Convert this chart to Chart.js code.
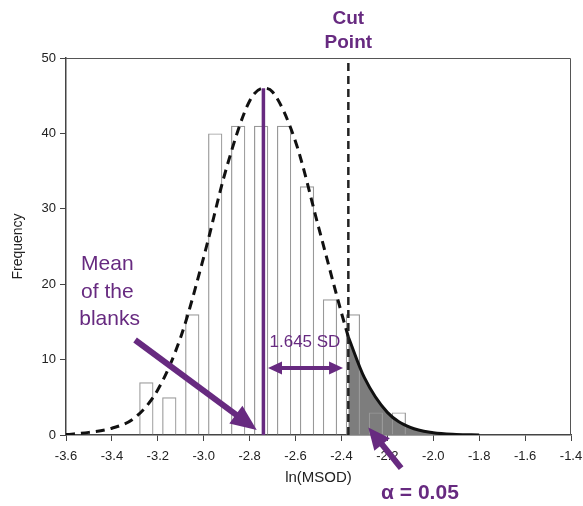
<!DOCTYPE html>
<html>
<head>
<meta charset="utf-8">
<script src="https://cdn.jsdelivr.net/npm/chart.js@4.4.1/dist/chart.umd.min.js"></script>
<style>
  html, body { margin: 0; padding: 0; background: #fff; }
  #wrap { width: 583px; height: 506px; }
</style>
</head>
<body>
<div id="wrap"><canvas id="c" width="583" height="506"></canvas></div>
<script>
// ---- data ----
const binCenters  = [-3.25, -3.15, -3.05, -2.95, -2.85, -2.75, -2.65, -2.55, -2.45, -2.35, -2.25, -2.15];
const frequencies = [7, 5, 16, 40, 41, 41, 41, 33, 18, 16, 3, 3];

const curveX = [-3.6, -3.5, -3.4, -3.3, -3.2, -3.1, -3.0, -2.9, -2.8, -2.74, -2.7, -2.6, -2.5, -2.4, -2.37];
const curveY = [0.05, 0.35, 0.9, 2.3, 6.0, 13.0, 23.6, 35.5, 44.3, 46.0, 45.5, 38.9, 27.6, 16.2, 13.0];

const tailX = [-2.37, -2.3, -2.2, -2.1, -2.0, -1.9, -1.8];
const tailY = [13.0, 7.6, 3.0, 1.0, 0.3, 0.07, 0.0];

const meanX = -2.74, meanTop = 46;
const cutX = -2.37, cutTop = 50;

const xTickMin = -3.6, xTickMax = -1.4, xTickStep = 0.2;
const yTickMin = 0, yTickMax = 50, yTickStep = 10;

const xTitle = 'ln(MSOD)';
const yTitle = 'Frequency';

// ---- styling ----
const PURPLE = '#672a80';
const FONT = "'Liberation Sans', Arial, sans-serif";

function pts(xs, ys) { return xs.map((v, i) => ({ x: v, y: ys[i] })); }

function drawArrow(ctx, x1, y1, x2, y2, w, headLen, headW, both) {
  const ang = Math.atan2(y2 - y1, x2 - x1);
  const cos = Math.cos(ang), sin = Math.sin(ang);
  ctx.lineWidth = w;
  ctx.lineCap = 'butt';
  const sx = both ? x1 + cos * headLen * 0.8 : x1;
  const sy = both ? y1 + sin * headLen * 0.8 : y1;
  const ex = x2 - cos * headLen * 0.8, ey = y2 - sin * headLen * 0.8;
  ctx.beginPath(); ctx.moveTo(sx, sy); ctx.lineTo(ex, ey); ctx.stroke();
  const head = (tx, ty, c, s) => {
    const bx = tx - c * headLen, by = ty - s * headLen;
    ctx.beginPath();
    ctx.moveTo(tx, ty);
    ctx.lineTo(bx - s * headW / 2, by + c * headW / 2);
    ctx.lineTo(bx + s * headW / 2, by - c * headW / 2);
    ctx.closePath(); ctx.fill();
  };
  head(x2, y2, cos, sin);
  if (both) head(x1, y1, -cos, -sin);
}

const annot = {
  id: 'annot',
  afterDatasetsDraw(chart) {
    const { ctx, chartArea: a, scales: { x, y } } = chart;
    ctx.save();
    // top/right frame
    ctx.strokeStyle = '#555'; ctx.lineWidth = 1;
    ctx.beginPath();
    ctx.moveTo(a.left, a.top + 0.5);
    ctx.lineTo(a.right - 0.5, a.top + 0.5);
    ctx.lineTo(a.right - 0.5, a.bottom);
    ctx.stroke();

    ctx.fillStyle = PURPLE; ctx.strokeStyle = PURPLE;
    ctx.textAlign = 'center'; ctx.textBaseline = 'middle';

    // Cut Point
    ctx.font = 'bold 19px ' + FONT;
    ctx.fillText('Cut', x.getPixelForValue(cutX), a.top - 39);
    ctx.fillText('Point', x.getPixelForValue(cutX), a.top - 15);

    // Mean of the blanks
    ctx.font = '21px ' + FONT;
    ctx.fillText('Mean', x.getPixelForValue(-3.42), y.getPixelForValue(22.7));
    ctx.fillText('of the', x.getPixelForValue(-3.42), y.getPixelForValue(19.0));
    ctx.fillText('blanks', x.getPixelForValue(-3.41), y.getPixelForValue(15.3));

    // arrow to mean
    drawArrow(ctx, x.getPixelForValue(-3.299), y.getPixelForValue(12.6),
                   x.getPixelForValue(-2.769), y.getPixelForValue(0.66), 6, 26, 22, false);

    // 1.645 SD
    ctx.font = '17px ' + FONT;
    ctx.fillText('1.645 SD', x.getPixelForValue(-2.559), y.getPixelForValue(12.3));
    drawArrow(ctx, x.getPixelForValue(-2.72), y.getPixelForValue(8.9),
                   x.getPixelForValue(-2.393), y.getPixelForValue(8.9), 4, 14, 13, true);

    // alpha
    drawArrow(ctx, x.getPixelForValue(-2.14), y.getPixelForValue(-4.4),
                   x.getPixelForValue(-2.283), y.getPixelForValue(1.0), 6, 22, 20, false);
    ctx.font = 'bold 21px ' + FONT;
    ctx.fillText('\u03B1 = 0.05', x.getPixelForValue(-2.058), a.bottom + 58);
    ctx.restore();
  }
};

new Chart(document.getElementById('c'), {
  type: 'bar',
  data: {
    datasets: [
      {
        type: 'line', data: pts(tailX, tailY), fill: 'origin',
        backgroundColor: '#7d7d7d', borderWidth: 0, pointRadius: 0,
        cubicInterpolationMode: 'monotone', order: 10
      },
      {
        type: 'bar', data: pts(binCenters, frequencies),
        backgroundColor: 'rgba(255,255,255,0)', borderColor: '#999', borderWidth: 1.2,
        barPercentage: 0.62, categoryPercentage: 1, order: 9
      },
      {
        type: 'line', data: pts(curveX, curveY), fill: false,
        borderColor: '#111', borderWidth: 3, borderDash: [9, 6], pointRadius: 0,
        cubicInterpolationMode: 'monotone', order: 3
      },
      {
        type: 'line', data: pts(tailX, tailY), fill: false,
        borderColor: '#111', borderWidth: 3, pointRadius: 0,
        cubicInterpolationMode: 'monotone', order: 2
      },
      {
        type: 'line', data: [{ x: cutX, y: 0 }, { x: cutX, y: cutTop }], fill: false,
        borderColor: '#222', borderWidth: 2.5, borderDash: [8, 5], pointRadius: 0, order: 1
      },
      {
        type: 'line', data: [{ x: meanX, y: 0 }, { x: meanX, y: meanTop }], fill: false,
        borderColor: PURPLE, borderWidth: 3.5, pointRadius: 0, order: 0
      }
    ]
  },
  options: {
    responsive: false,
    animation: false,
    layout: { padding: { top: 58, right: 12, left: 0, bottom: 0 } },
    plugins: { legend: { display: false }, tooltip: { enabled: false } },
    scales: {
      x: {
        type: 'linear', min: xTickMin, max: xTickMax, offset: false,
        grid: { offset: false, drawOnChartArea: false, drawTicks: true, tickLength: 6, color: '#444' },
        border: { display: true, color: '#444', width: 1.5 },
        ticks: {
          stepSize: xTickStep, padding: 8, color: '#222',
          font: { family: FONT, size: 13 },
          callback: v => (Math.round(v * 10) / 10).toFixed(1),
          maxRotation: 0, autoSkip: false
        },
        title: { display: true, text: xTitle, color: '#222', font: { family: FONT, size: 15 }, padding: { top: 0, bottom: 19 } },
        afterFit: s => { s.height = 71; s.paddingLeft = 0; s.paddingRight = 0; }
      },
      y: {
        type: 'linear', min: yTickMin, max: yTickMax,
        grid: { drawOnChartArea: false, drawTicks: true, tickLength: 6, color: '#444' },
        border: { display: true, color: '#444', width: 1.5 },
        ticks: { stepSize: yTickStep, padding: 4, color: '#222', font: { family: FONT, size: 13 } },
        title: { display: true, text: yTitle, color: '#222', font: { family: FONT, size: 14 }, padding: { top: 10, bottom: 0 } },
        afterFit: s => { s.width = 66; s.paddingTop = 0; s.paddingBottom = 0; }
      }
    }
  },
  plugins: [annot]
});
</script>
</body>
</html>
